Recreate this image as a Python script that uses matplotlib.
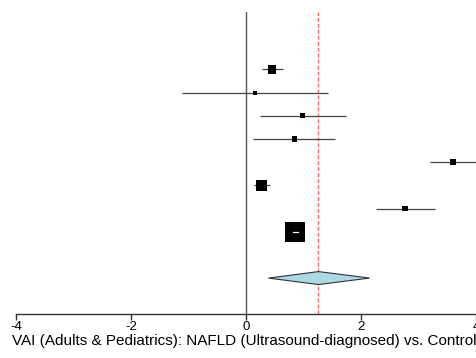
import numpy as np
import matplotlib
matplotlib.use("Agg")
import matplotlib.pyplot as plt
from matplotlib.patches import Polygon

plt.rcParams["font.family"] = ["Liberation Sans", "DejaVu Sans"]

# study-level effects (SMD) with 95% CI, top row first
estimates = [0.45, 0.16, 0.99, 0.84, 3.60, 0.27, 2.77, 0.86]
ci_lower = [0.27, -1.11, 0.24, 0.12, 3.20, 0.14, 2.26, 0.81]
ci_upper = [0.64, 1.42, 1.74, 1.55, 4.00, 0.41, 3.28, 0.91]
weights = [13.7, 0.8, 3.6, 4.7, 7.4, 20.5, 5.5, 43.8]

# pooled random-effects estimate
pooled_est = 1.26
pooled_lower = 0.39
pooled_upper = 2.15

xticks = [-4, -2, 0, 2, 4]
xlab = "VAI (Adults & Pediatrics): NAFLD (Ultrasound-diagnosed) vs. Control"

W, H = 476, 358
fig = plt.figure(figsize=(W / 100, H / 100), dpi=100)
ax = fig.add_axes([0, (H - 314) / H, 1, (314 - 12) / H])
ax.set_xlim(-4.28, 3.90)
ax.set_ylim(-2.55, 10.48)

k = len(estimates)
rows = np.arange(k, 0, -1)

# reference lines
ax.axvline(0, color="#555555", lw=1.0, zorder=1)
ax.axvline(pooled_est, color="#ff6b6b", lw=1.0, dashes=(2.9, 1.4), zorder=1)

# confidence intervals
for y, lo, hi in zip(rows, ci_lower, ci_upper):
    ax.plot([lo, hi], [y, y], color="#444444", lw=0.9, zorder=2, solid_capstyle="butt")

# boxes sized by weight
w = np.array(weights)
side_px = 4 + 16 * (w - w.min()) / (w.max() - w.min())
ax.scatter(estimates, rows, marker="s", s=(side_px * 0.72) ** 2,
           color="black", linewidths=0, zorder=3)

# CI lines hidden inside a box are redrawn in white
for y, lo, hi, sp in zip(rows, ci_lower, ci_upper, side_px):
    x0 = ax.transData.transform((lo, y))[0]
    x1 = ax.transData.transform((hi, y))[0]
    if x1 - x0 < sp:
        ax.plot([lo, hi], [y, y], color="white", lw=0.9, zorder=4)

# summary diamond
dh = 0.28
diamond = Polygon([[pooled_lower, -1], [pooled_est, -1 + dh],
                   [pooled_upper, -1], [pooled_est, -1 - dh]],
                  closed=True, facecolor="#add8e6", edgecolor="#333333", lw=0.8, zorder=3)
ax.add_patch(diamond)

# axis styling
for s in ["top", "right", "left"]:
    ax.spines[s].set_visible(False)
ax.spines["bottom"].set_bounds(-4, 4)
ax.spines["bottom"].set_color("#333333")
ax.spines["bottom"].set_linewidth(1.0)
ax.set_yticks([])
ax.set_xticks(xticks)
ax.set_xticklabels([str(t) for t in xticks])
ax.tick_params(axis="x", direction="out", length=4.3, width=1.0, color="#333333",
               pad=0.5, labelsize=9.5)

fig.text(12 / W, 1 - 341 / H, xlab, ha="left", va="center", fontsize=11)

fig.savefig("out.png", dpi=100)
